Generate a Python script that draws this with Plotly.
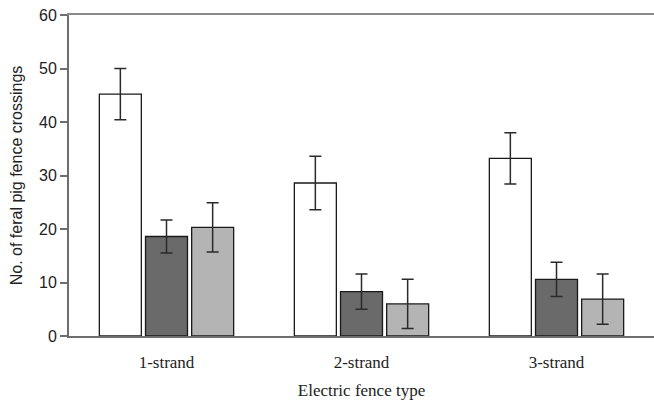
import plotly.graph_objects as go

categories = ["1-strand", "2-strand", "3-strand"]
white_vals = [45.2, 28.6, 33.2]
white_err = [4.8, 5.0, 4.8]
dark_vals = [18.6, 8.3, 10.6]
dark_err = [3.1, 3.3, 3.2]
light_vals = [20.3, 6.0, 6.9]
light_err = [4.6, 4.6, 4.7]
y_ticks = [0, 10, 20, 30, 40, 50, 60]

series = [
    (white_vals, white_err, "#ffffff"),
    (dark_vals, dark_err, "#6a6a6a"),
    (light_vals, light_err, "#b4b4b4"),
]

fig = go.Figure()
for vals, errs, col in series:
    fig.add_trace(go.Bar(
        x=categories, y=vals,
        marker=dict(color=col, line=dict(color="#1a1a1a", width=1.3)),
        error_y=dict(type="data", array=errs, visible=True,
                     color="#2a2a2a", thickness=1.5, width=6),
        showlegend=False,
    ))

# top border line as a secondary x axis
fig.add_trace(go.Scatter(x=categories, y=[None] * 3, xaxis="x2", showlegend=False,
                         hoverinfo="skip"))

fig.update_layout(
    width=654, height=404,
    margin=dict(l=69, r=0, t=15, b=68, autoexpand=False),
    paper_bgcolor="white", plot_bgcolor="white",
    barmode="group", bargap=0.29, bargroupgap=0.09,
    xaxis=dict(
        type="category", range=[-0.5, 2.5], automargin=False,
        showline=True, linecolor="#6e6e6e", linewidth=2,
        ticks="", showgrid=False, ticklabelstandoff=10,
        tickfont=dict(family="Liberation Serif", size=17, color="#222"),
        title=dict(text="Electric fence type",
                   font=dict(family="Liberation Serif", size=17, color="#222"),
                   standoff=13),
    ),
    xaxis2=dict(
        overlaying="x", side="top", anchor="y", type="category",
        range=[-0.5, 2.5], showline=True, linecolor="#8a8a8a", linewidth=2,
        showticklabels=False, ticks="", showgrid=False,
    ),
    yaxis=dict(
        range=[0, 60], tickvals=y_ticks, automargin=False,
        showline=True, linecolor="#6e6e6e", linewidth=2,
        ticks="outside", ticklen=7, tickwidth=2, tickcolor="#6e6e6e",
        showgrid=False, zeroline=False,
        tickfont=dict(family="Liberation Sans", size=16, color="#222"),
        title=dict(text="No. of feral pig fence crossings",
                   font=dict(family="Liberation Sans", size=16, color="#222"),
                   standoff=12),
    ),
)

fig.write_html("out.html", config={"displayModeBar": False},
               post_script="document.body.style.margin='0';")
